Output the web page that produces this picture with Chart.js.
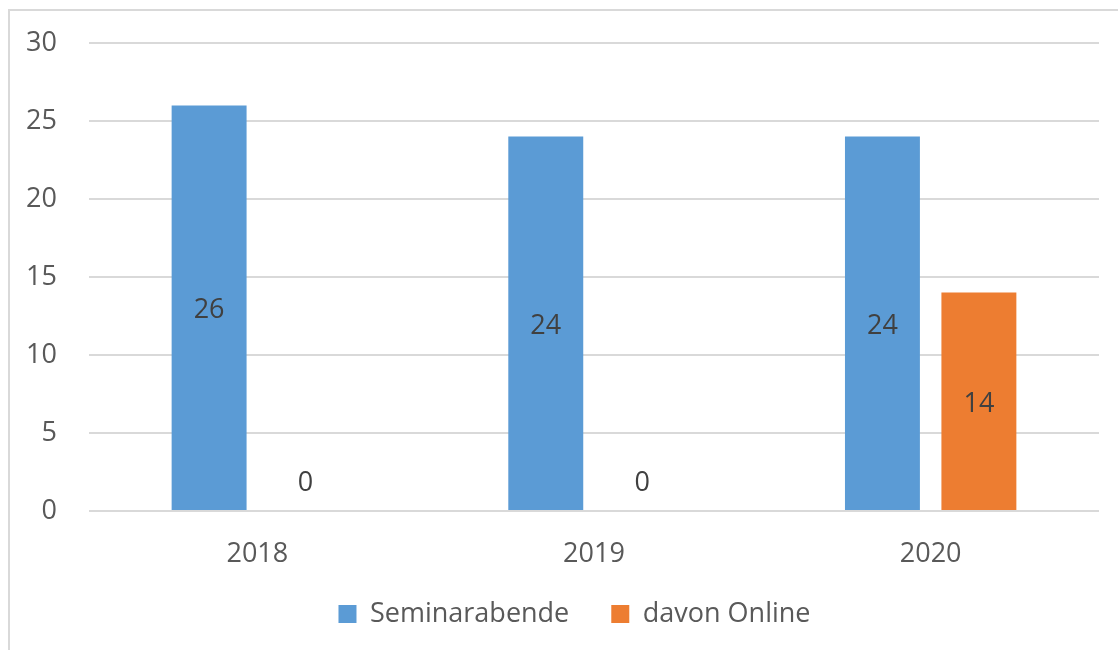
<!DOCTYPE html>
<html>
<head>
<meta charset="utf-8">
<script src="https://cdn.jsdelivr.net/npm/chart.js@4"></script>
<style>
  body { margin: 0; background: #fff; overflow: hidden; }
  #frame {
    position: absolute; left: 8px; top: 9px; width: 1200px; height: 700px;
    border-left: 2px solid #d9d9d9; border-top: 2px solid #d9d9d9;
  }
  #chart { position: absolute; left: 0; top: 0; }
</style>
</head>
<body>
<div id="frame"></div>
<canvas id="chart" width="1118" height="650"></canvas>
<script>
// chart values
const years = ['2018', '2019', '2020'];
const seminarabende = [26, 24, 24];
const davonOnline = [0, 0, 14];
const yTicks = [0, 5, 10, 15, 20, 25, 30];

const FONT = 'Open Sans';
const SIZE = 27;

// value labels in the middle of each bar, above the axis when the bar is empty
const barLabels = {
  id: 'barLabels',
  afterDatasetsDraw(chart) {
    const ctx = chart.ctx;
    ctx.save();
    ctx.font = SIZE + 'px "' + FONT + '"';
    ctx.fillStyle = '#404040';
    ctx.textAlign = 'center';
    ctx.textBaseline = 'middle';
    chart.data.datasets.forEach((ds, i) => {
      const meta = chart.getDatasetMeta(i);
      meta.data.forEach((bar, j) => {
        const h = bar.base - bar.y;
        const y = h < 40 ? bar.base - 28 : (bar.y + bar.base) / 2 + 3;
        ctx.fillText(String(ds.data[j]), bar.x, y);
      });
    });
    ctx.restore();
  }
};

// move the legend row a little, as in the original
const legendShift = {
  id: 'legendShift',
  afterLayout(chart) {
    const lg = chart.legend;
    lg.left += 25;
    lg.right += 25;
    lg.top -= 12.5;
    lg.bottom -= 12.5;
  }
};

new Chart(document.getElementById('chart').getContext('2d'), {
  type: 'bar',
  data: {
    labels: years,
    datasets: [
      {
        label: 'Seminarabende',
        data: seminarabende,
        backgroundColor: '#5b9bd5',
        categoryPercentage: 0.573,
        barPercentage: 0.777
      },
      {
        label: 'davon Online',
        data: davonOnline,
        backgroundColor: '#ed7d31',
        categoryPercentage: 0.573,
        barPercentage: 0.777
      }
    ]
  },
  options: {
    responsive: false,
    animation: false,
    layout: { padding: { top: 43, right: 19, bottom: 0, left: 0 } },
    plugins: {
      legend: {
        position: 'bottom',
        labels: {
          color: '#595959',
          font: { family: FONT, size: SIZE },
          boxWidth: 18,
          boxHeight: 18,
          padding: 42
        }
      },
      tooltip: { enabled: false }
    },
    scales: {
      x: {
        grid: { display: false, drawTicks: false },
        border: { display: false },
        ticks: { color: '#595959', font: { family: FONT, size: SIZE }, padding: 27.5 },
        afterFit(scale) { scale.height = 60; }
      },
      y: {
        min: 0,
        max: 30,
        afterBuildTicks(scale) { scale.ticks = yTicks.map(v => ({ value: v })); },
        grid: { color: '#d9d9d9', lineWidth: 2, drawTicks: false },
        border: { display: false },
        ticks: { color: '#595959', font: { family: FONT, size: SIZE }, padding: 32 },
        afterFit(scale) {
          scale.width = 89;
          scale.paddingTop = 0;
          scale.paddingBottom = 0;
        }
      }
    }
  },
  plugins: [barLabels, legendShift]
});
</script>
</body>
</html>
